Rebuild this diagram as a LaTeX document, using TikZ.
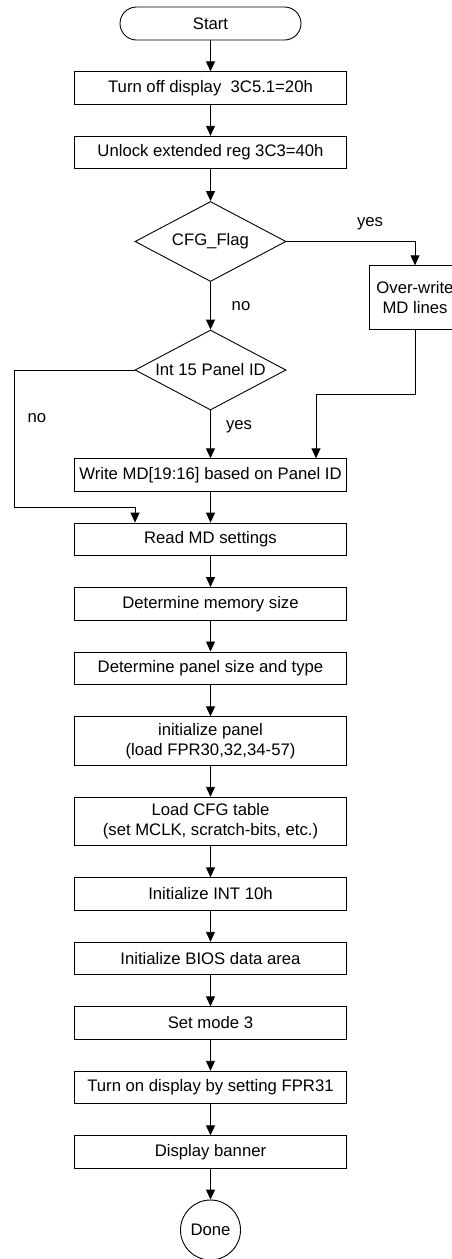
\documentclass[tikz,border=0pt]{standalone}
\usepackage{fontspec}
\setmainfont{Liberation Sans}
\usetikzlibrary{arrows.meta,shapes.geometric}
\begin{document}
\begin{tikzpicture}[x=1pt,y=-1pt,
  font=\fontsize{16.7}{20}\selectfont,
  line width=0.9pt,
  every node/.style={inner sep=0pt},
  proc/.style={draw,rectangle,minimum width=272pt,minimum height=32.5pt},
  proctall/.style={draw,rectangle,minimum width=272pt,minimum height=48.5pt,align=center},
  decide/.style={draw,diamond,minimum width=151pt,minimum height=80pt,aspect=1.8875},
  terminal/.style={draw,rectangle,rounded corners=16.5pt,minimum width=181pt,minimum height=33pt},
  endcircle/.style={draw,circle,minimum size=60pt},
  lbl/.style={},
  flow/.style={-{Triangle[length=10pt,width=9pt]}}
]
\useasboundingbox (0,0) rectangle (452,1259);
\node[terminal] (start) at (210.5,23.5) {Start};
\node[proc] (b1) at (210.5,88) {Turn off display\ \ 3C5.1=20h};
\node[proc] (b2) at (210.5,152.5) {Unlock extended reg 3C3=40h};
\node[decide] (d1) at (210.5,241.5) {CFG\_Flag};
\node[draw,rectangle,minimum width=92pt,minimum height=63.5pt,align=center] (ow) at (415,297.5) {Over-write\\MD lines};
\node[decide] (d2) at (210.5,370) {Int 15 Panel ID};
\node[proc] (wmd) at (210.5,475) {Write MD[19:16] based on Panel ID};
\node[proc] (rmd) at (210.5,539.3) {Read MD settings};
\node[proc] (mem) at (210.5,603.7) {Determine memory size};
\node[proc] (pan) at (210.5,668.2) {Determine panel size and type};
\node[proctall] (ipan) at (210.5,741) {initialize panel\\(load FPR30,32,34-57)};
\node[proctall] (cfg) at (210.5,821.5) {Load CFG table\\(set MCLK, scratch-bits, etc.)};
\node[proc] (int) at (210.5,894) {Initialize INT 10h};
\node[proc] (bios) at (210.5,958.5) {Initialize BIOS data area};
\node[proc] (mode) at (210.5,1023) {Set mode 3};
\node[proc] (on) at (210.5,1087.5) {Turn on display by setting FPR31};
\node[proc] (ban) at (210.5,1152) {Display banner};
\node[endcircle] (done) at (210.5,1230) {Done};

\node[lbl] (lyes1) at (370,224) {yes};
\node[lbl] (lno1) at (241,306) {no};
\node[lbl] (lno2) at (37,418) {no};
\node[lbl] (lyes2) at (239,427) {yes};

\coordinate (c1) at (415,241.5);
\coordinate (c2) at (14,370);
\coordinate (c3) at (14,507);
\coordinate (c4) at (135,507);
\coordinate (c5) at (415,394);
\coordinate (c6) at (316,394);

\draw[flow] (start) -- (b1);
\draw[flow] (b1) -- (b2);
\draw[flow] (b2) -- (d1);
\draw[flow] (d1.east) -- (c1) -- (ow.north);
\draw[flow] (d1) -- (d2);
\draw[flow] (d2.west) -- (c2) -- (c3) -- (c4) -- (c4 |- rmd.north);
\draw[flow] (d2) -- (wmd);
\draw[flow] (ow.south) -- (c5) -- (c6) -- (c6 |- wmd.north);
\draw[flow] (wmd) -- (rmd);
\draw[flow] (rmd) -- (mem);
\draw[flow] (mem) -- (pan);
\draw[flow] (pan) -- (ipan);
\draw[flow] (ipan) -- (cfg);
\draw[flow] (cfg) -- (int);
\draw[flow] (int) -- (bios);
\draw[flow] (bios) -- (mode);
\draw[flow] (mode) -- (on);
\draw[flow] (on) -- (ban);
\draw[flow] (ban) -- (done);
\end{tikzpicture}
\end{document}
